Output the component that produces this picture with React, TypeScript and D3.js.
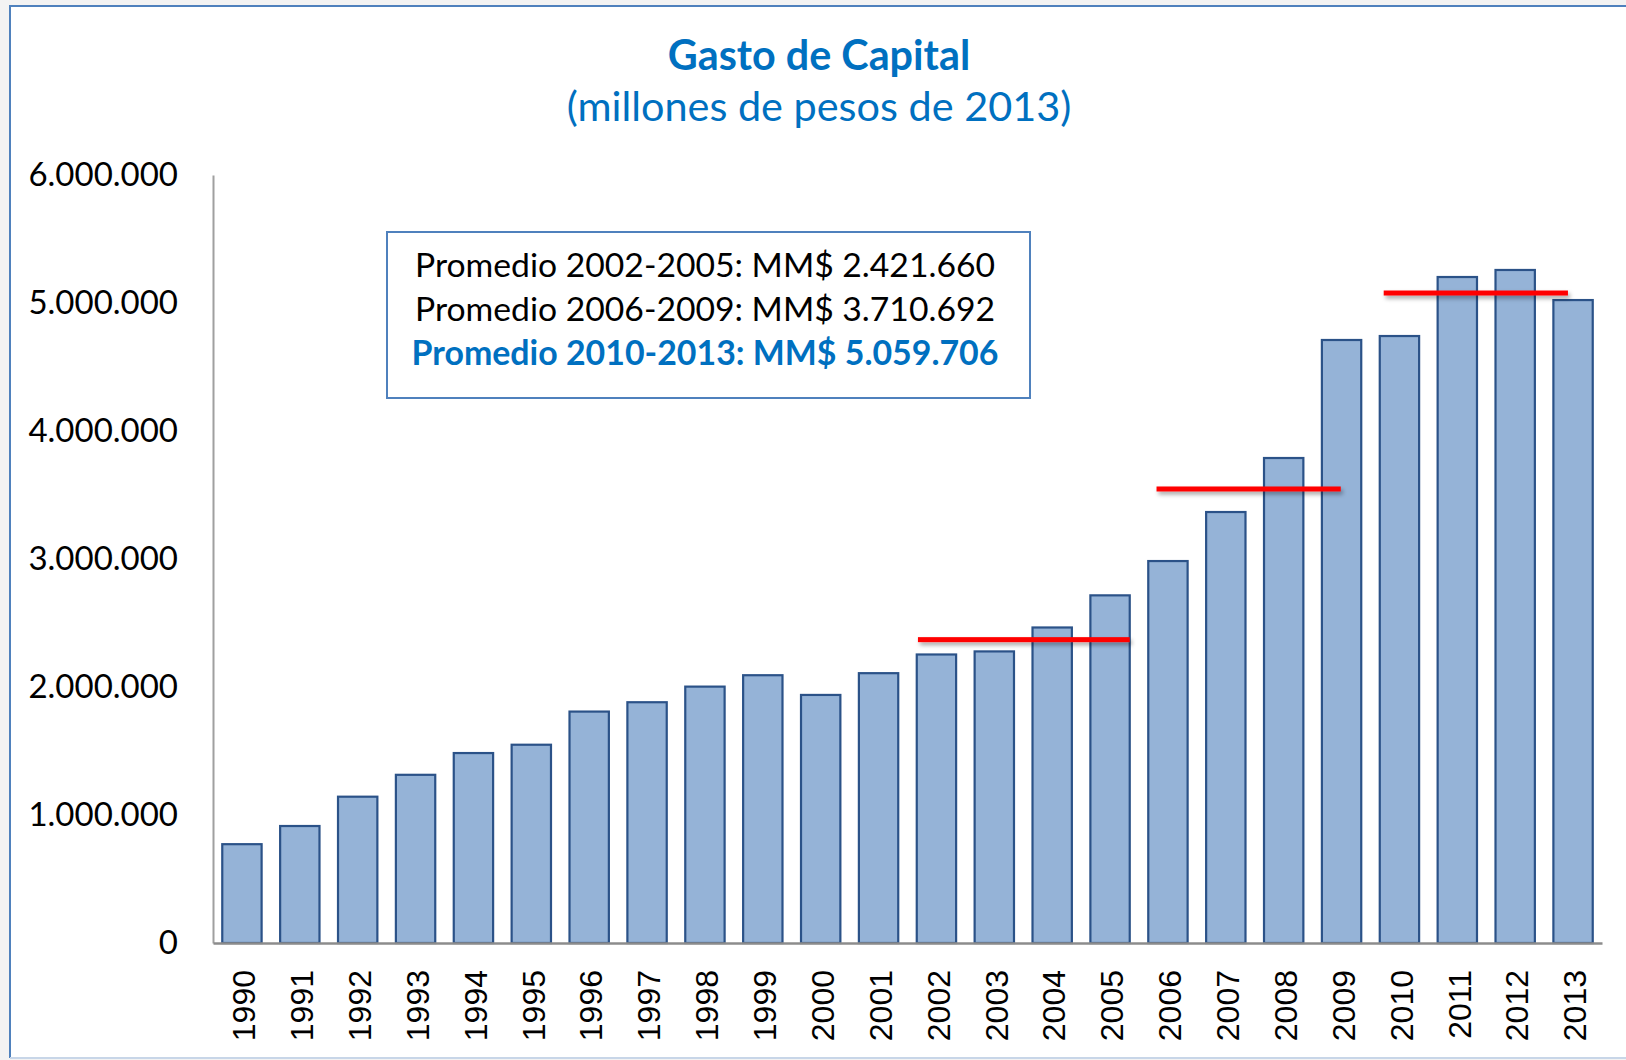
import React, { useEffect, useRef } from "react";
import * as d3 from "d3";

// Gasto de Capital, millones de pesos de 2013
const years = [
  "1990", "1991", "1992", "1993", "1994", "1995", "1996", "1997",
  "1998", "1999", "2000", "2001", "2002", "2003", "2004", "2005",
  "2006", "2007", "2008", "2009", "2010", "2011", "2012", "2013",
];
const gasto = [
  772000, 914000, 1143000, 1314000, 1484000, 1549000, 1808000, 1881000,
  2003000, 2092000, 1938000, 2108000, 2254000, 2278000, 2465000, 2716000,
  2984000, 3367000, 3789000, 4711000, 4742000, 5203000, 5258000, 5023000,
];
const yTicks = [0, 1000000, 2000000, 3000000, 4000000, 5000000, 6000000];

// red average bars, as drawn on the slide
const avgFrom = ["2002", "2006", "2010"];
const avgTo = ["2005", "2009", "2013"];
const avgLevel = [2370000, 3547000, 5078000];
const avgStartFrac = [0.03, 0.21, 0.1];
const avgEndFrac = [1.0, 0.48, 0.37];

const boxLines = [
  "Promedio 2002-2005: MM$ 2.421.660",
  "Promedio 2006-2009: MM$ 3.710.692",
  "Promedio 2010-2013: MM$ 5.059.706",
];

const W = 1626;
const H = 1060;
const font = "Lato, 'Open Sans', sans-serif";
const blue = "#0070C0";

const locale = d3.formatLocale({
  decimal: ",",
  thousands: ".",
  grouping: [3],
  currency: ["$", ""],
});
const fmt = locale.format(",d");

export default function App() {
  const ref = useRef<SVGSVGElement>(null);

  useEffect(() => {
    const svg = d3.select(ref.current);
    svg.selectAll("*").remove();

    const x = d3
      .scaleBand()
      .domain(years)
      .range([213, 1602])
      .paddingInner(0.32)
      .paddingOuter(0.16);
    const y = d3.scaleLinear().domain([0, 6000000]).range([943, 175]);

    const defs = svg.append("defs");
    const sh = defs
      .append("filter")
      .attr("id", "shadow")
      .attr("filterUnits", "userSpaceOnUse")
      .attr("x", 0)
      .attr("y", 0)
      .attr("width", W)
      .attr("height", H);
    sh.append("feDropShadow")
      .attr("dx", 2)
      .attr("dy", 3)
      .attr("stdDeviation", 2)
      .attr("flood-color", "#000")
      .attr("flood-opacity", 0.35);

    // page + frame
    svg.append("rect").attr("width", W).attr("height", H).attr("fill", "#f3f3f3");
    svg
      .append("rect")
      .attr("x", 10)
      .attr("y", 6)
      .attr("width", W)
      .attr("height", 1052)
      .attr("fill", "#fff");
    svg
      .append("path")
      .attr("d", `M10,1058V6H${W}`)
      .attr("fill", "none")
      .attr("stroke", "#4F81BD")
      .attr("stroke-width", 2);
    svg
      .append("line")
      .attr("x1", 10)
      .attr("x2", W)
      .attr("y1", 1058)
      .attr("y2", 1058)
      .attr("stroke", "#c8d6e8")
      .attr("stroke-width", 2);

    // title
    svg
      .append("text")
      .attr("x", 819)
      .attr("y", 70)
      .attr("text-anchor", "middle")
      .attr("font-family", font)
      .attr("font-weight", "bold")
      .attr("font-size", 41.3)
      .attr("fill", blue)
      .text("Gasto de Capital");
    svg
      .append("text")
      .attr("x", 819)
      .attr("y", 121)
      .attr("text-anchor", "middle")
      .attr("font-family", font)
      .attr("font-size", 41.4)
      .attr("fill", blue)
      .text("(millones de pesos de 2013)");

    // bars
    svg
      .append("g")
      .selectAll("rect")
      .data(years)
      .join("rect")
      .attr("x", (d) => x(d)!)
      .attr("width", x.bandwidth())
      .attr("y", (d, i) => y(gasto[i]))
      .attr("height", (d, i) => y(0) - y(gasto[i]))
      .attr("fill", "#95B3D7")
      .attr("stroke", "#2B5288")
      .attr("stroke-width", 2.2);

    // axes
    const yAxis = svg
      .append("g")
      .attr("transform", `translate(213,0)`)
      .call(
        d3
          .axisLeft(y)
          .tickValues(yTicks)
          .tickSize(0)
          .tickPadding(35)
          .tickFormat((d) => fmt(d as number))
      );
    yAxis.select(".domain").attr("stroke", "#a0a0a0").attr("stroke-width", 2);
    yAxis
      .selectAll("text")
      .attr("font-family", font)
      .attr("font-size", 33)
      .attr("fill", "#000");

    const xAxis = svg
      .append("g")
      .attr("transform", `translate(0,943)`)
      .call(d3.axisBottom(x).tickSize(0).tickSizeOuter(0));
    xAxis.select(".domain").attr("stroke", "#8c8c8c").attr("stroke-width", 2.5);
    xAxis
      .selectAll("text")
      .attr("font-family", "'Liberation Sans', Arial, sans-serif")
      .attr("font-size", 32)
      .attr("fill", "#000")
      .attr("text-anchor", "end")
      .attr("transform", "translate(2,27) rotate(-90)")
      .attr("x", 0)
      .attr("y", 0)
      .attr("dy", "0.35em");

    // average lines
    svg
      .append("g")
      .attr("filter", "url(#shadow)")
      .selectAll("rect")
      .data(avgFrom)
      .join("rect")
      .attr("x", (d, i) => x(d)! + x.bandwidth() * avgStartFrac[i])
      .attr(
        "width",
        (d, i) =>
          x(avgTo[i])! +
          x.bandwidth() * avgEndFrac[i] -
          (x(d)! + x.bandwidth() * avgStartFrac[i])
      )
      .attr("y", (d, i) => y(avgLevel[i]) - 2.5)
      .attr("height", 5)
      .attr("fill", "#FF0000");

    // annotation box
    svg
      .append("rect")
      .attr("x", 387)
      .attr("y", 232)
      .attr("width", 643)
      .attr("height", 166)
      .attr("fill", "#fff")
      .attr("stroke", "#4F81BD")
      .attr("stroke-width", 2);
    svg
      .append("g")
      .selectAll("text")
      .data(boxLines)
      .join("text")
      .attr("x", 705)
      .attr("y", (d, i) => 277 + i * 44)
      .attr("text-anchor", "middle")
      .attr("font-family", font)
      .attr("font-size", (d, i) => (i === 2 ? 33.9 : 33.7))
      .attr("font-weight", (d, i) => (i === 2 ? "bold" : "normal"))
      .attr("fill", (d, i) => (i === 2 ? blue : "#000"))
      .text((d) => d);
  }, []);

  return (
    <svg
      ref={ref}
      width={W}
      height={H}
      style={{ position: "absolute", left: 0, top: 0 }}
    />
  );
}
